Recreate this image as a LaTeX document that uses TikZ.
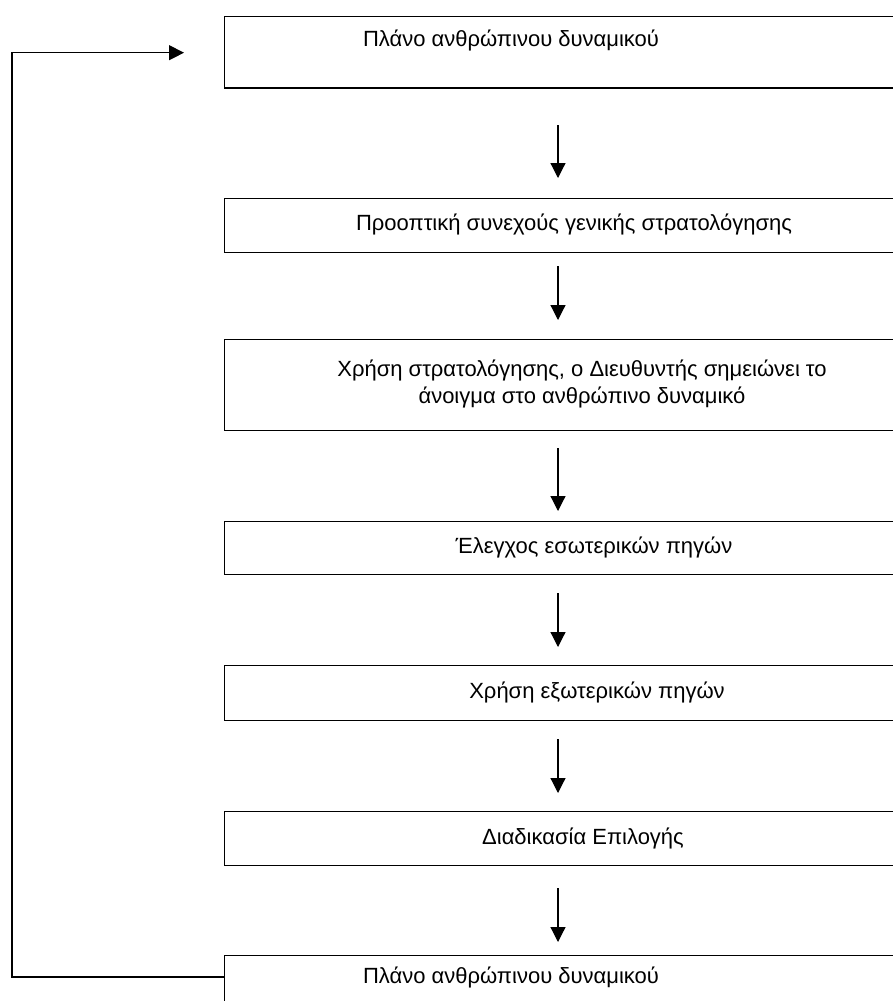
\documentclass[tikz,border=0pt]{standalone}
\usepackage{fontspec}
\setmainfont{Liberation Sans}
\usetikzlibrary{arrows.meta,calc}
\begin{document}
\begin{tikzpicture}[x=1bp,y=-1bp,
  box/.style={draw, line width=1.3bp, rectangle, anchor=north west, minimum width=706bp, inner sep=0pt},
  txt/.style={font=\fontsize{22bp}{27bp}\selectfont, align=center, inner sep=0pt},
  arr/.style={line width=1.2bp, -{Triangle[length=15bp,width=15bp]}}]
\begin{scope}
\clip (0,0) rectangle (893,1001);
\fill[white] (0,0) rectangle (893,1001);
\coordinate (ax) at (558,0);
\node[box, minimum height=71.6bp] (b1) at (224,15.7) {};
\node[box, minimum height=54.5bp] (b2) at (224,197.5) {};
\node[box, minimum height=91.5bp] (b3) at (224,338.5) {};
\node[box, minimum height=53.5bp] (b4) at (224,520.5) {};
\node[box, minimum height=55.5bp] (b5) at (224,664.5) {};
\node[box, minimum height=54bp] (b6) at (224,811) {};
\node[box, minimum height=80bp] (b7) at (224,955) {};
\node[txt] (t1) at (511,40) {Πλάνο ανθρώπινου δυναμικού};
\node[txt] (t2) at (574,224) {Προοπτική συνεχούς γενικής στρατολόγησης};
\node[txt] (t3) at (582,384) {Χρήση στρατολόγησης, ο Διευθυντής σημειώνει το\\άνοιγμα στο ανθρώπινο δυναμικό};
\node[txt] (t4) at (594,547) {Έλεγχος εσωτερικών πηγών};
\node[txt] (t5) at (597,692) {Χρήση εξωτερικών πηγών};
\node[txt] (t6) at (583,838) {Διαδικασία Επιλογής};
\node[txt] (t7) at (511,977) {Πλάνο ανθρώπινου δυναμικού};
\draw[arr, shorten <=36.7bp, shorten >=19.5bp] (b1.south -| ax) -- (b2.north -| ax);
\draw[arr, shorten <=13bp, shorten >=18.5bp] (b2.south -| ax) -- (b3.north -| ax);
\draw[arr, shorten <=17bp, shorten >=9.5bp] (b3.south -| ax) -- (b4.north -| ax);
\draw[arr, shorten <=18bp, shorten >=17.5bp] (b4.south -| ax) -- (b5.north -| ax);
\draw[arr, shorten <=18bp, shorten >=18bp] (b5.south -| ax) -- (b6.north -| ax);
\draw[arr, shorten <=22bp, shorten >=13bp] (b6.south -| ax) -- (b7.north -| ax);
\coordinate (fbend) at (184,52.7);
\draw[arr] ($(b7.north west)+(0,22)$) -| (12,52.7) -- (fbend);
\end{scope}
\pgfresetboundingbox
\useasboundingbox (0,0) rectangle (893,1001);
\end{tikzpicture}
\end{document}
